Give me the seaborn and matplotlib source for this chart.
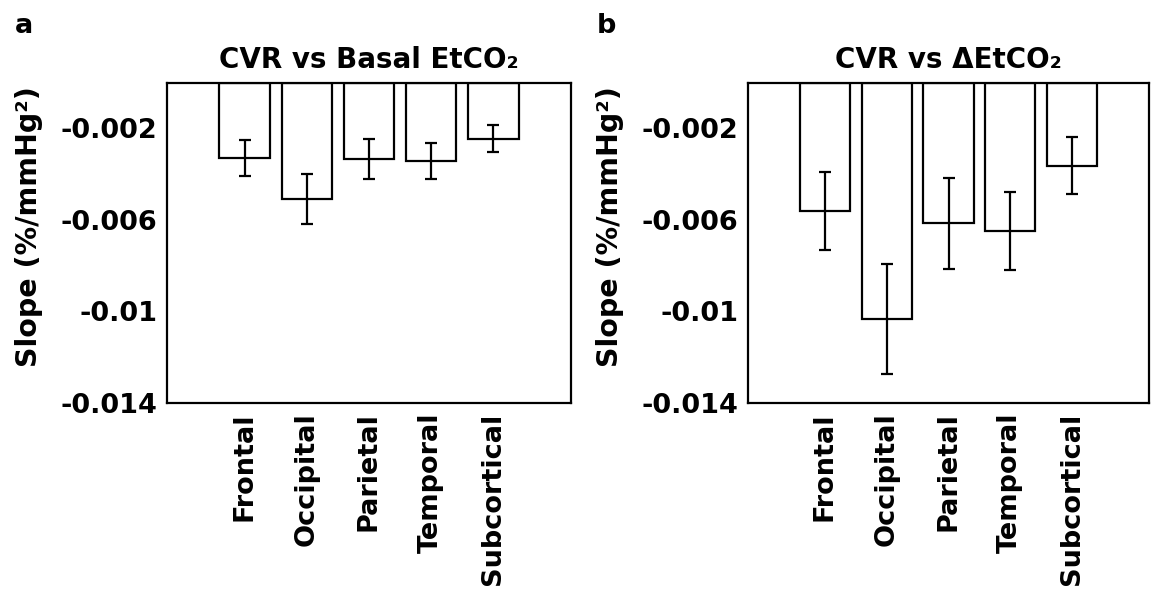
import matplotlib
matplotlib.use("Agg")
import matplotlib.pyplot as plt
import seaborn as sns
import pandas as pd
import numpy as np

regions = ["Frontal", "Occipital", "Parietal", "Temporal", "Subcortical"]
basal_mean = [-0.0033, -0.0051, -0.00333, -0.00342, -0.00245]
basal_err = [0.0008, 0.0011, 0.00088, 0.0008, 0.00058]
delta_mean = [-0.0056, -0.01033, -0.00615, -0.0065, -0.00363]
delta_err = [0.0017, 0.0024, 0.002, 0.0017, 0.00124]
titles = ["CVR vs Basal EtCO\u2082", "CVR vs \u0394EtCO\u2082"]
panel_letters = ["a", "b"]
yticks = [-0.002, -0.006, -0.01, -0.014]
ytick_labels = ["-0.002", "-0.006", "-0.01", "-0.014"]
ylabel = "Slope (%/mmHg\u00b2)"

sns.set_theme(style="white")
plt.rcParams["font.family"] = ["DejaVu Sans"]
plt.rcParams["font.weight"] = "bold"
for k in ["text.color", "axes.labelcolor", "xtick.color", "ytick.color"]:
    plt.rcParams[k] = "black"

FS = 19.5
W, H = 1153, 600

fig = plt.figure(figsize=(11.53, 6.0), dpi=100)
axes = [fig.add_axes([167 / W, 1 - 402.7 / H, 404 / W, 320 / H]),
        fig.add_axes([748 / W, 1 - 402.7 / H, 401 / W, 320 / H])]
ylabel_x = [29, 610]
letter_x = [15, 597]

data = [(basal_mean, basal_err), (delta_mean, delta_err)]
for i, ax in enumerate(axes):
    m, e = data[i]
    df = pd.DataFrame({"region": regions, "slope": m})
    sns.barplot(data=df, x="region", y="slope", ax=ax, color="white",
                edgecolor="black", linewidth=1.6, width=0.81, errorbar=None)
    ax.errorbar(np.arange(len(regions)), m, yerr=e, fmt="none", ecolor="black",
                elinewidth=1.6, capsize=4, capthick=1.6)
    ax.set_xlim(-1.245, 5.245)
    ax.set_ylim(-0.014, 0)
    ax.set_yticks(yticks)
    ax.set_yticklabels(ytick_labels, fontsize=FS, fontweight="bold")
    ax.set_xticks(np.arange(len(regions)))
    ax.set_xticklabels(regions, rotation=90, fontsize=FS, fontweight="bold")
    ax.tick_params(axis="y", direction="in", length=5, width=1.2, color="black", pad=7)
    ax.tick_params(axis="x", length=0, pad=7)
    ax.set_xlabel("")
    ax.set_ylabel("")
    ax.set_title(titles[i], fontsize=20, fontweight="bold", pad=10.5)
    for s in ax.spines.values():
        s.set_visible(True)
        s.set_color("black")
        s.set_linewidth(1.6)
    fig.text(ylabel_x[i] / W, 1 - 226.5 / H, ylabel, rotation=90, fontsize=20.5,
             fontweight="bold", ha="center", va="center")
    fig.text(letter_x[i] / W, 1 - 33 / H, panel_letters[i], fontsize=19.5,
             fontweight="bold", va="baseline")

fig.savefig("out.png", dpi=100, facecolor="white")
